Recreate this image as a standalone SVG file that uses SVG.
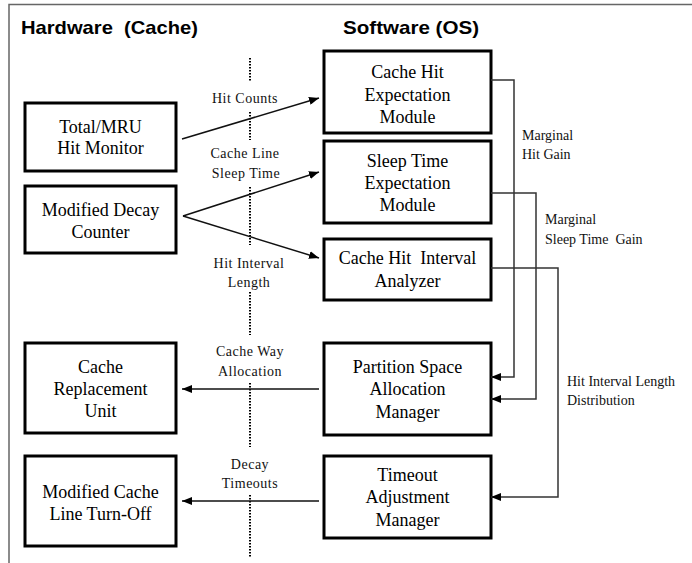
<svg xmlns="http://www.w3.org/2000/svg" width="692" height="563" viewBox="0 0 692 563">
  <style>
    text { white-space: pre; }
    .title { font-family: "Liberation Sans", Arial, sans-serif; font-weight: bold; font-size: 19px; fill: #000; }
    .box rect { fill: #fff; stroke: #000; stroke-width: 3; }
    .box text { font-family: "Liberation Serif", "Times New Roman", serif; font-size: 18px; fill: #000; text-anchor: middle; }
    .lbl { font-family: "Liberation Serif", "Times New Roman", serif; font-size: 14px; fill: #111; }
    .mid { text-anchor: middle; letter-spacing: 0.5px; }
    .arrow { stroke: #111; stroke-width: 1.5; fill: none; marker-end: url(#head); }
    .elbow { stroke: #333; stroke-width: 1.5; fill: none; marker-end: url(#head); }
    .divider { stroke: #000; stroke-width: 2; stroke-dasharray: 1.5 1.5; fill: none; }
  </style>
  <defs>
    <marker id="head" viewBox="0 0 10 8" refX="10" refY="4" markerWidth="10" markerHeight="8" markerUnits="userSpaceOnUse" orient="auto">
      <path d="M0,0 L10,4 L0,8 z" fill="#000"/>
    </marker>
  </defs>

  <rect width="692" height="563" fill="#fff"/>
  <!-- frame: top and left edges only -->
  <path d="M9,563 V4.5 H692" stroke="#666" stroke-width="1.5" fill="none"/>

  <text class="title" x="21" y="34" textLength="177" lengthAdjust="spacingAndGlyphs" xml:space="preserve">Hardware  (Cache)</text>
  <text class="title" x="343" y="34" textLength="136" lengthAdjust="spacingAndGlyphs">Software (OS)</text>

  <!-- hardware / software boundary -->
  <g id="boundary">
    <path class="divider" d="M250,58 V82 M250,112 V140 M250,187 V245 M250,292 V335 M250,383 V447 M250,495 V557"/>
  </g>

  <!-- hardware side -->
  <g id="hit-monitor" class="box">
    <rect x="25" y="103" width="151" height="68"/>
    <text x="100.5" y="133">Total/MRU</text>
    <text x="100.5" y="154">Hit Monitor</text>
  </g>
  <g id="decay-counter" class="box">
    <rect x="25" y="186" width="151" height="67"/>
    <text x="100.5" y="216">Modified Decay</text>
    <text x="100.5" y="238">Counter</text>
  </g>
  <g id="replacement-unit" class="box">
    <rect x="25" y="343" width="151" height="90"/>
    <text x="100.5" y="373">Cache</text>
    <text x="100.5" y="395">Replacement</text>
    <text x="100.5" y="417">Unit</text>
  </g>
  <g id="turn-off" class="box">
    <rect x="25" y="456" width="151" height="90"/>
    <text x="100.5" y="498">Modified Cache</text>
    <text x="100.5" y="520">Line Turn-Off</text>
  </g>

  <!-- software side -->
  <g id="hit-expectation" class="box">
    <rect x="324" y="51" width="167" height="82"/>
    <text x="407.5" y="78">Cache Hit</text>
    <text x="407.5" y="101">Expectation</text>
    <text x="407.5" y="123">Module</text>
  </g>
  <g id="sleep-expectation" class="box">
    <rect x="324" y="141" width="167" height="82"/>
    <text x="407.5" y="167">Sleep Time</text>
    <text x="407.5" y="189">Expectation</text>
    <text x="407.5" y="211">Module</text>
  </g>
  <g id="interval-analyzer" class="box">
    <rect x="324" y="239" width="167" height="61"/>
    <text x="407.5" y="264" xml:space="preserve">Cache Hit  Interval</text>
    <text x="407.5" y="287">Analyzer</text>
  </g>
  <g id="partition-manager" class="box">
    <rect x="324" y="343" width="167" height="92"/>
    <text x="407.5" y="373">Partition Space</text>
    <text x="407.5" y="395">Allocation</text>
    <text x="407.5" y="418">Manager</text>
  </g>
  <g id="timeout-manager" class="box">
    <rect x="324" y="456" width="167" height="82"/>
    <text x="407.5" y="481">Timeout</text>
    <text x="407.5" y="503">Adjustment</text>
    <text x="407.5" y="526">Manager</text>
  </g>

  <!-- connectors -->
  <g id="connectors">
    <path class="arrow" d="M182,139 L319,98"/>
    <path class="arrow" d="M183,216 L319,172"/>
    <path class="arrow" d="M183,216 L319,258"/>
    <path class="arrow" d="M319,389 H182"/>
    <path class="arrow" d="M319,501 H182"/>
    <path class="elbow" d="M491,80 H514 V377 H491"/>
    <path class="elbow" d="M491,193 H536 V399 H491"/>
    <path class="elbow" d="M491,268 H558 V497 H491"/>
  </g>

  <!-- connector labels -->
  <g id="labels">
    <text class="lbl mid" x="245" y="103">Hit Counts</text>
    <text class="lbl mid" x="245" y="158">Cache Line</text>
    <text class="lbl mid" x="246" y="178">Sleep Time</text>
    <text class="lbl mid" x="249" y="268">Hit Interval</text>
    <text class="lbl mid" x="249" y="287">Length</text>
    <text class="lbl mid" x="250" y="356">Cache Way</text>
    <text class="lbl mid" x="250" y="376">Allocation</text>
    <text class="lbl mid" x="250" y="469">Decay</text>
    <text class="lbl mid" x="250" y="488">Timeouts</text>
    <text class="lbl" x="522" y="140">Marginal</text>
    <text class="lbl" x="522" y="159">Hit Gain</text>
    <text class="lbl" x="545" y="224">Marginal</text>
    <text class="lbl" x="545" y="244" xml:space="preserve">Sleep Time  Gain</text>
    <text class="lbl" x="567" y="386">Hit Interval Length</text>
    <text class="lbl" x="567" y="405">Distribution</text>
  </g>
</svg>
